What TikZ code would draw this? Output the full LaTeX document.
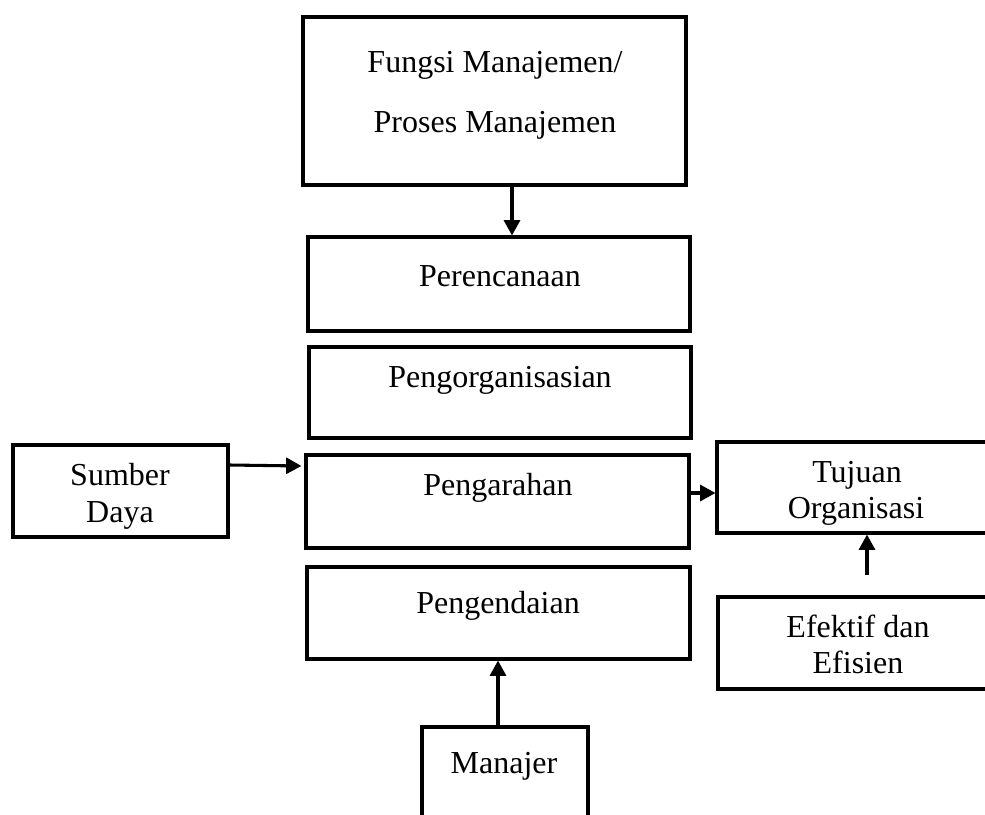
\documentclass[tikz,border=0pt]{standalone}
\usepackage{fontspec}
\setmainfont{Liberation Serif}
\usetikzlibrary{arrows.meta,fit,calc}
\begin{document}
\begin{tikzpicture}[x=0.75pt,y=-0.75pt,
  box/.style={draw,line width=2.3pt,inner sep=0pt,fill=none},
  txt/.style={anchor=base,inner sep=0pt,font=\fontsize{24}{28}\selectfont},
  arr/.style={line width=2.3pt,-{Triangle[length=11.5pt,width=12pt]}}]
\useasboundingbox (0,0) rectangle (985,814);
\clip (0,0) rectangle (985,814);
% boxes
\node[box,fit={(303,17) (686,185)}] (top) {};
\node[box,fit={(308,237) (690,331)}] (per) {};
\node[box,fit={(309,347) (691,438)}] (org) {};
\node[box,fit={(306,455) (689,548)}] (arah) {};
\node[box,fit={(307,567) (690,659)}] (dal) {};
\node[box,fit={(422,727) (588,860)}] (man) {};
\node[box,fit={(13,445) (228,537)}] (sum) {};
\node[box,fit={(717,442) (1000,533)}] (tuj) {};
\node[box,fit={(718,597) (1000,689)}] (efe) {};
% texts
\node[txt] (t1) at (495,72) {Fungsi Manajemen/};
\node[txt] (t2) at (495,132) {Proses Manajemen};
\node[txt] (tper) at (500,286) {Perencanaan};
\node[txt] (torg) at (500,387) {Pengorganisasian};
\node[txt] (tarah) at (498,495) {Pengarahan};
\node[txt] (tdal) at (498,613) {Pengendaian};
\node[txt] (tman) at (504,773) {Manajer};
\node[txt] (ts1) at (120,485) {Sumber};
\node[txt] (ts2) at (120,522) {Daya};
\node[txt] (tt1) at (857,482) {Tujuan};
\node[txt] (tt2) at (856,518) {Organisasi};
\node[txt] (te1) at (858,637) {Efektif dan};
\node[txt] (te2) at (858,673) {Efisien};
% connectors
\coordinate (a0) at ($(top.south)+(17.5,0)$);
\draw[arr] (a0) -- (a0 |- per.north);
\coordinate (b0) at ($(sum.east)+(0,-26)$);
\draw[arr] (b0) -- ($(arah.west)+(-3,-35.5)$);
\coordinate (c0) at ($(arah.east)+(0,-8.5)$);
\draw[arr] (c0) -- (c0 -| tuj.west);
\coordinate (d0) at ($(efe.north)+(8,-20)$);
\draw[arr] (d0) -- (d0 |- tuj.south);
\coordinate (m0) at ($(man.north)+(-7,3)$);
\draw[arr] (m0) -- (m0 |- dal.south);
\end{tikzpicture}
\end{document}
